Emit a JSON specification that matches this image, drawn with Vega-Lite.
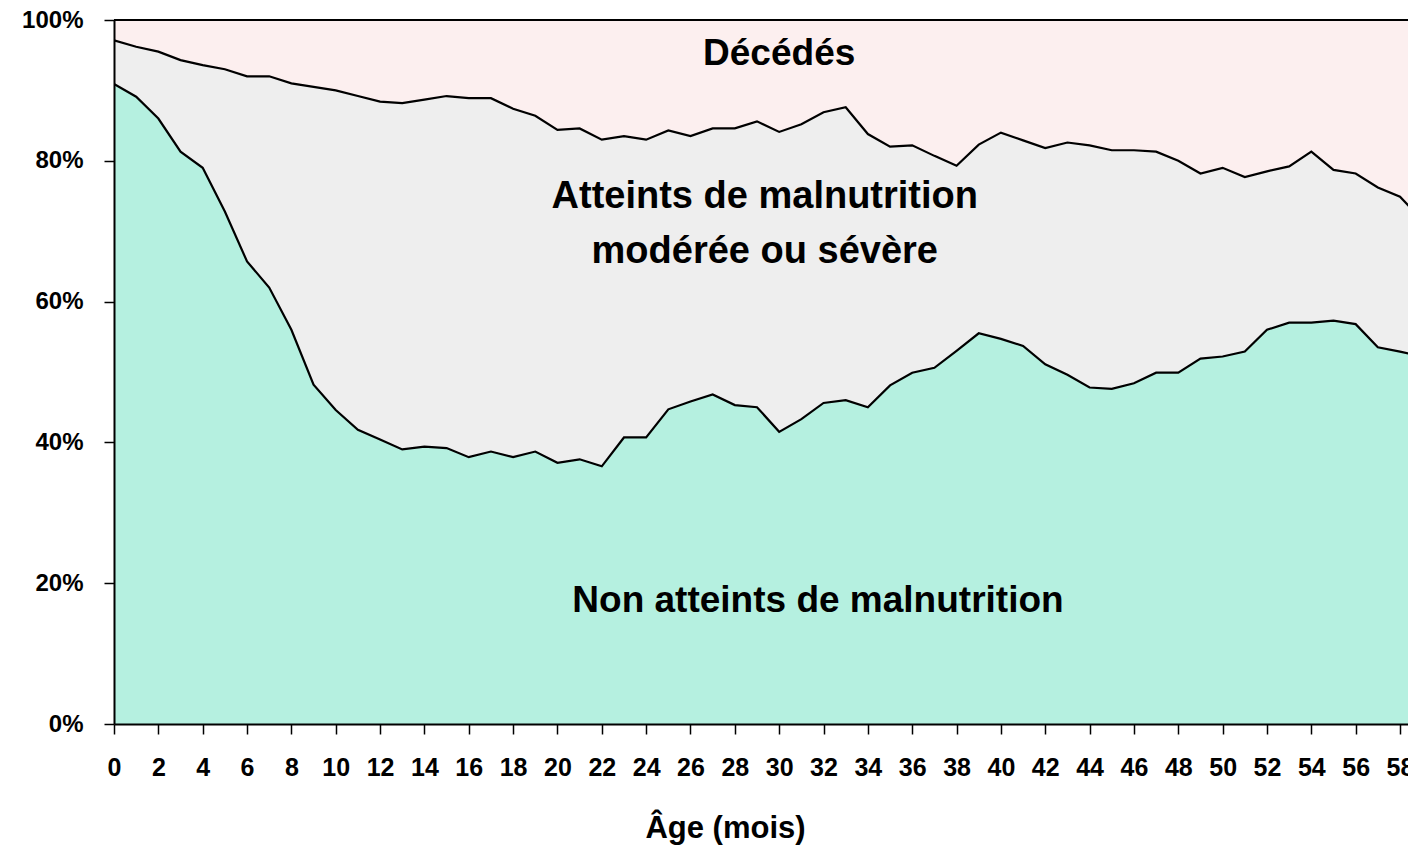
{
  "$schema": "https://vega.github.io/schema/vega-lite/v6.json",
  "width": 1294,
  "height": 704,
  "autosize": {"type": "none"},
  "padding": {"left": 114, "top": 20, "right": 0, "bottom": 123},
  "background": "white",
  "config": {"view": {"stroke": null}, "font": "Liberation Sans"},
  "data": {"values": [
    {"m": 0, "non": 90.9, "cum": 97.1},
    {"m": 1, "non": 89.1, "cum": 96.2},
    {"m": 2, "non": 86.0, "cum": 95.5},
    {"m": 3, "non": 81.3, "cum": 94.3},
    {"m": 4, "non": 79.0, "cum": 93.6},
    {"m": 5, "non": 72.8, "cum": 93.0},
    {"m": 6, "non": 65.7, "cum": 92.0},
    {"m": 7, "non": 62.0, "cum": 92.0},
    {"m": 8, "non": 56.0, "cum": 91.0},
    {"m": 9, "non": 48.2, "cum": 90.5},
    {"m": 10, "non": 44.6, "cum": 90.0},
    {"m": 11, "non": 41.8, "cum": 89.2},
    {"m": 12, "non": 40.4, "cum": 88.4},
    {"m": 13, "non": 39.0, "cum": 88.2},
    {"m": 14, "non": 39.4, "cum": 88.7},
    {"m": 15, "non": 39.2, "cum": 89.2},
    {"m": 16, "non": 37.9, "cum": 88.9},
    {"m": 17, "non": 38.7, "cum": 88.9},
    {"m": 18, "non": 37.9, "cum": 87.4},
    {"m": 19, "non": 38.7, "cum": 86.4},
    {"m": 20, "non": 37.1, "cum": 84.4},
    {"m": 21, "non": 37.6, "cum": 84.6},
    {"m": 22, "non": 36.6, "cum": 83.0},
    {"m": 23, "non": 40.7, "cum": 83.5},
    {"m": 24, "non": 40.7, "cum": 83.0},
    {"m": 25, "non": 44.7, "cum": 84.3},
    {"m": 26, "non": 45.8, "cum": 83.5},
    {"m": 27, "non": 46.8, "cum": 84.6},
    {"m": 28, "non": 45.3, "cum": 84.6},
    {"m": 29, "non": 45.0, "cum": 85.6},
    {"m": 30, "non": 41.5, "cum": 84.1},
    {"m": 31, "non": 43.3, "cum": 85.2},
    {"m": 32, "non": 45.6, "cum": 86.9},
    {"m": 33, "non": 46.0, "cum": 87.6},
    {"m": 34, "non": 45.0, "cum": 83.8},
    {"m": 35, "non": 48.1, "cum": 82.0},
    {"m": 36, "non": 49.9, "cum": 82.2},
    {"m": 37, "non": 50.6, "cum": 80.7},
    {"m": 38, "non": 53.0, "cum": 79.3},
    {"m": 39, "non": 55.5, "cum": 82.3},
    {"m": 40, "non": 54.7, "cum": 84.0},
    {"m": 41, "non": 53.7, "cum": 82.9},
    {"m": 42, "non": 51.1, "cum": 81.8},
    {"m": 43, "non": 49.6, "cum": 82.6},
    {"m": 44, "non": 47.8, "cum": 82.2},
    {"m": 45, "non": 47.6, "cum": 81.5},
    {"m": 46, "non": 48.4, "cum": 81.5},
    {"m": 47, "non": 49.9, "cum": 81.3},
    {"m": 48, "non": 49.9, "cum": 80.0},
    {"m": 49, "non": 51.9, "cum": 78.2},
    {"m": 50, "non": 52.2, "cum": 79.0},
    {"m": 51, "non": 52.9, "cum": 77.7},
    {"m": 52, "non": 56.0, "cum": 78.5},
    {"m": 53, "non": 57.0, "cum": 79.2},
    {"m": 54, "non": 57.0, "cum": 81.3},
    {"m": 55, "non": 57.3, "cum": 78.7},
    {"m": 56, "non": 56.8, "cum": 78.2},
    {"m": 57, "non": 53.5, "cum": 76.2},
    {"m": 58, "non": 52.9, "cum": 74.9},
    {"m": 59, "non": 52.2, "cum": 71.6}
  ]},
  "layer": [
    {
      "mark": {"type": "area", "color": "#FCEFEF", "clip": true},
      "encoding": {
        "x": {
          "field": "m",
          "type": "quantitative",
          "scale": {"domain": [0, 58.36], "nice": false, "zero": false},
          "axis": {
            "title": "Âge (mois)",
            "values": [0,1,2,3,4,5,6,7,8,9,10,11,12,13,14,15,16,17,18,19,20,21,22,23,24,25,26,27,28,29,30,31,32,33,34,35,36,37,38,39,40,41,42,43,44,45,46,47,48,49,50,51,52,53,54,55,56,57,58,59],
            "labelExpr": "datum.value % 2 == 0 ? datum.label : ''",
            "grid": false,
            "zindex": 1,
            "tickSize": 10,
            "tickColor": "black",
            "tickWidth": 1.5,
            "domainColor": "black",
            "domainWidth": 2,
            "labelFont": "Liberation Sans",
            "labelFontWeight": "bold",
            "labelFontSize": 25,
            "labelColor": "black",
            "labelPadding": 21,
            "labelFlush": false,
            "labelOverlap": false,
            "titleFont": "Liberation Sans",
            "titleFontSize": 31,
            "titleFontWeight": "bold",
            "titleColor": "black",
            "titleX": 611,
            "titleY": 113.5,
            "titleBaseline": "alphabetic",
            "titleAlign": "center"
          }
        },
        "y": {
          "field": "cum",
          "type": "quantitative",
          "scale": {"domain": [0, 100], "nice": false},
          "axis": {
            "title": null,
            "values": [0, 20, 40, 60, 80, 100],
            "labelExpr": "datum.value + '%'",
            "grid": false,
            "zindex": 1,
            "tickSize": 10,
            "tickColor": "black",
            "tickWidth": 1.5,
            "domainColor": "black",
            "domainWidth": 2,
            "labelFont": "Liberation Sans",
            "labelFontWeight": "bold",
            "labelFontSize": 24,
            "labelColor": "black",
            "labelPadding": 21,
            "labelFlush": false,
            "labelOverlap": false
          }
        },
        "y2": {"datum": 100}
      }
    },
    {
      "mark": {"type": "area", "color": "#EEEEEE", "clip": true},
      "encoding": {
        "x": {"field": "m", "type": "quantitative"},
        "y": {"field": "cum", "type": "quantitative"},
        "y2": {"field": "non"}
      }
    },
    {
      "mark": {"type": "area", "color": "#B5F0E0", "clip": true},
      "encoding": {
        "x": {"field": "m", "type": "quantitative"},
        "y": {"field": "non", "type": "quantitative"}
      }
    },
    {
      "mark": {"type": "line", "color": "black", "strokeWidth": 2.2, "clip": true},
      "encoding": {
        "x": {"field": "m", "type": "quantitative"},
        "y": {"field": "cum", "type": "quantitative"}
      }
    },
    {
      "mark": {"type": "line", "color": "black", "strokeWidth": 2.2, "clip": true},
      "encoding": {
        "x": {"field": "m", "type": "quantitative"},
        "y": {"field": "non", "type": "quantitative"}
      }
    },
    {
      "transform": [{"filter": "datum.m == 0"}],
      "mark": {"type": "rule", "color": "black", "strokeWidth": 2},
      "encoding": {
        "y": {"datum": 100, "type": "quantitative"}
      }
    },
    {
      "transform": [{"filter": "datum.m == 0"}],
      "mark": {"type": "text", "text": "Décédés", "font": "Liberation Sans", "fontWeight": "bold", "fontSize": 37, "fill": "black", "align": "center", "baseline": "alphabetic"},
      "encoding": {
        "x": {"datum": 30, "type": "quantitative"},
        "y": {"datum": 93.6, "type": "quantitative"}
      }
    },
    {
      "transform": [{"filter": "datum.m == 0"}],
      "mark": {"type": "text", "text": ["Atteints de malnutrition", "modérée ou sévère"], "lineHeight": 55, "font": "Liberation Sans", "fontWeight": "bold", "fontSize": 38, "fill": "black", "align": "center", "baseline": "alphabetic"},
      "encoding": {
        "x": {"datum": 29.35, "type": "quantitative"},
        "y": {"datum": 73.25, "type": "quantitative"}
      }
    },
    {
      "transform": [{"filter": "datum.m == 0"}],
      "mark": {"type": "text", "text": "Non atteints de malnutrition", "font": "Liberation Sans", "fontWeight": "bold", "fontSize": 37, "fill": "black", "align": "center", "baseline": "alphabetic"},
      "encoding": {
        "x": {"datum": 31.75, "type": "quantitative"},
        "y": {"datum": 15.95, "type": "quantitative"}
      }
    }
  ]
}
